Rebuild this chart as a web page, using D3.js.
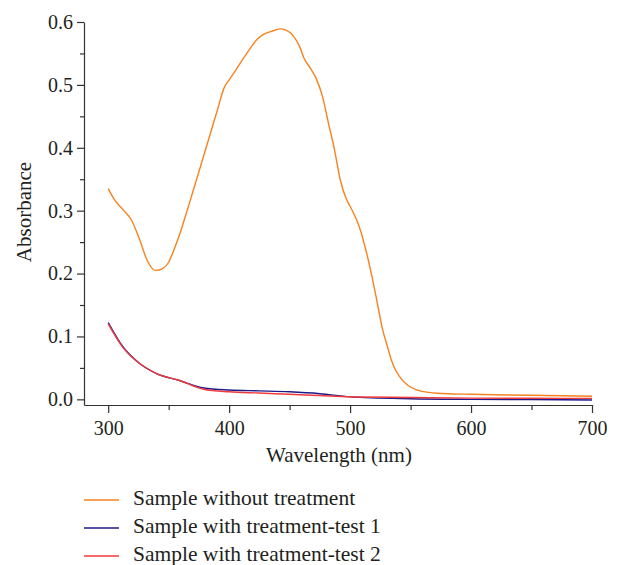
<!DOCTYPE html>
<html>
<head>
<meta charset="utf-8">
<script src="https://cdn.jsdelivr.net/npm/d3@7.9.0/dist/d3.min.js"></script>
<style>
  body { margin: 0; background: #fff; }
  svg text { font-family: "Liberation Serif", "DejaVu Serif", serif; fill: #231f20; }
</style>
</head>
<body>
<svg width="617" height="565"></svg>
<script>
// wavelength (nm) / absorbance
const orangeWl = [300, 305, 312, 319, 326, 332, 339, 345, 350, 354, 359, 363, 370, 380, 390, 396, 400, 405, 410, 417, 423, 428, 435, 442, 447, 453, 458, 462, 467, 472, 477, 482, 487, 492, 497, 500, 505, 509, 512, 515, 518, 522, 527, 531, 534, 538, 543, 548, 555, 565, 572, 600, 650, 700];
const orangeAbs = [0.335, 0.318, 0.302, 0.286, 0.254, 0.222, 0.205, 0.208, 0.218, 0.236, 0.262, 0.286, 0.330, 0.394, 0.458, 0.496, 0.508, 0.522, 0.537, 0.557, 0.572, 0.580, 0.585, 0.589, 0.587, 0.578, 0.562, 0.542, 0.527, 0.510, 0.483, 0.440, 0.398, 0.348, 0.318, 0.307, 0.287, 0.266, 0.245, 0.222, 0.196, 0.158, 0.110, 0.083, 0.063, 0.045, 0.031, 0.022, 0.015, 0.011, 0.0096, 0.008, 0.0065, 0.005];

const blueWl = [300, 312, 326, 340, 359, 379, 400, 425, 450, 475, 500, 550, 600, 650, 700];
const blueAbs = [0.122, 0.084, 0.057, 0.041, 0.030, 0.018, 0.0148, 0.0135, 0.012, 0.009, 0.004, 0.001, 0.0, -0.0005, -0.001];

const redWl = [300, 312, 326, 340, 359, 379, 400, 425, 450, 475, 500, 550, 600, 650, 700];
const redAbs = [0.120, 0.083, 0.057, 0.041, 0.030, 0.016, 0.012, 0.010, 0.008, 0.006, 0.004, 0.003, 0.002, 0.0017, 0.0015];

const seriesNames = ["Sample without treatment", "Sample with treatment-test 1", "Sample with treatment-test 2"];
const seriesColors = ["#f7821e", "#1c1a8a", "#f23a3a"];

const yTicks = [0.0, 0.1, 0.2, 0.3, 0.4, 0.5, 0.6];
const xTicks = [300, 400, 500, 600, 700];

const svg = d3.select("svg");

const x = d3.scaleLinear().domain([280, 700]).range([84, 592]);
const y = d3.scaleLinear().domain([-0.009, 0.6]).range([405, 22]);

// minor ticks first so majors draw over them
svg.append("g")
  .attr("transform", "translate(84,0)")
  .call(d3.axisLeft(y).tickValues(d3.range(0.05, 0.6, 0.1)).tickSize(4).tickSizeOuter(0).tickFormat(""))
  .call(g => g.select(".domain").remove());
svg.append("g")
  .attr("transform", "translate(0,405)")
  .call(d3.axisBottom(x).tickValues([350, 450, 550, 650]).tickSize(5).tickSizeOuter(0).tickFormat(""))
  .call(g => g.select(".domain").remove());

const yAxis = svg.append("g")
  .attr("transform", "translate(84,0)")
  .call(d3.axisLeft(y).tickValues(yTicks).tickFormat(d3.format(".1f")).tickSize(7).tickSizeOuter(0));
yAxis.selectAll("text").attr("font-size", 20).attr("x", -11).attr("font-family", null);

const xAxis = svg.append("g")
  .attr("transform", "translate(0,405)")
  .call(d3.axisBottom(x).tickValues(xTicks).tickSize(8).tickSizeOuter(0));
xAxis.selectAll("text").attr("font-size", 20).attr("y", 16).attr("font-family", null);

svg.selectAll(".domain, .tick line").attr("stroke", "#333").attr("stroke-width", 1.2);

// axis titles
svg.append("text")
  .attr("x", 339).attr("y", 462)
  .attr("text-anchor", "middle")
  .attr("font-size", 21)
  .text("Wavelength (nm)");

svg.append("text")
  .attr("transform", "translate(31,212) rotate(-90)")
  .attr("text-anchor", "middle")
  .attr("font-size", 21)
  .text("Absorbance");

const line = d3.line()
  .x(d => x(d[0]))
  .y(d => y(d[1]))
  .curve(d3.curveMonotoneX);

const allSeries = [
  d3.zip(blueWl, blueAbs),
  d3.zip(redWl, redAbs),
  d3.zip(orangeWl, orangeAbs)
];
const order = [1, 2, 0];

allSeries.forEach((pts, i) => {
  svg.append("path")
    .attr("d", line(pts))
    .attr("fill", "none")
    .attr("stroke", seriesColors[order[i]])
    .attr("stroke-width", 1.4);
});

// legend
const legend = svg.append("g");
seriesNames.forEach((name, i) => {
  const ly = 500 + i * 28;
  legend.append("line")
    .attr("x1", 84).attr("x2", 119)
    .attr("y1", ly).attr("y2", ly)
    .attr("stroke", seriesColors[i])
    .attr("stroke-width", 1.4);
  legend.append("text")
    .attr("x", 133).attr("y", ly + 5)
    .attr("font-size", 21.5)
    .text(name);
});
</script>
</body>
</html>
